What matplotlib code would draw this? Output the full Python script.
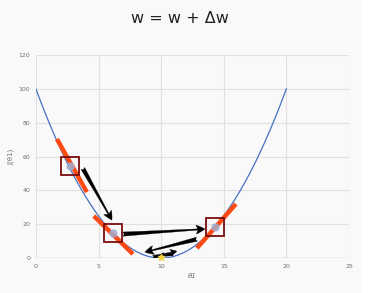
import numpy as np
import matplotlib.pyplot as plt
from matplotlib.patches import FancyArrowPatch

# cost curve J(theta1) = (theta1 - 10)^2 sampled at integer steps
theta = [0, 1, 2, 3, 4, 5, 6, 7, 8, 9, 10, 11, 12, 13, 14, 15, 16, 17, 18, 19, 20]
cost = [100, 81, 64, 49, 36, 25, 16, 9, 4, 1, 0, 1, 4, 9, 16, 25, 36, 49, 64, 81, 100]

# highlighted steps (boxed points)
step_x = [2.7, 6.15, 14.3]
step_y = [54.5, 14.8, 18.3]

# tangent segments (start x, start y, end x, end y)
tan_x0 = [1.68, 4.63, 12.86]
tan_y0 = [70.4, 24.9, 5.9]
tan_x1 = [4.07, 7.75, 15.97]
tan_y1 = [39.0, 2.4, 32.0]

# update arrows (from -> to)
arr_x0 = [3.75, 6.95, 12.86, 9.35, 10.94]
arr_y0 = [53.0, 14.2, 11.2, 0.6, 2.4]
arr_x1 = [6.07, 13.5, 8.7, 11.26, 9.74]
arr_y1 = [22.5, 17.2, 3.55, 4.1, 0.6]

fig = plt.figure(figsize=(3.74, 2.93), dpi=100, facecolor='#f9f9f9')
fig.patches.append(plt.Rectangle((0.968, 0), 0.032, 1, transform=fig.transFigure,
                                 facecolor='white', edgecolor='none', zorder=-1))
ax = fig.add_axes([0.096, 0.119, 0.837, 0.693])
ax.set_facecolor('#f9f9f9')

# smooth curve through the sampled points
xs = np.linspace(0, 20, 200)
ys = np.polyval(np.polyfit(theta, cost, 2), xs)
ax.plot(xs, ys, color='#4472c4', lw=0.9, zorder=3)

for i in range(3):
    ax.plot([tan_x0[i], tan_x1[i]], [tan_y0[i], tan_y1[i]], color='#ff4a14', lw=3.2,
            solid_capstyle='butt', zorder=4)

ax.plot(step_x, step_y, ls='None', marker='o', ms=5, color='#9fb0d6', alpha=0.8, zorder=5)
ax.plot(step_x, step_y, ls='None', marker='s', ms=12.5, mfc='none', mec='#7a0c0c', mew=1.3, zorder=6)

for i in range(len(arr_x0)):
    big = i < 3
    style = ('fancy,head_length=0.8,head_width=0.8,tail_width=0.38' if big
             else 'fancy,head_length=0.6,head_width=0.6,tail_width=0.3')
    a = FancyArrowPatch((arr_x0[i], arr_y0[i]), (arr_x1[i], arr_y1[i]),
                        arrowstyle=style, color='black', lw=0.2,
                        mutation_scale=8, shrinkA=0, shrinkB=0, zorder=7)
    ax.add_patch(a)

ax.plot([10], [0.5], marker='*', ms=5, color='#f2d13a', zorder=8, clip_on=False)

ax.set_xlim(0, 25)
ax.set_ylim(0, 120)
ax.set_xticks([0, 5, 10, 15, 20, 25])
ax.set_yticks([0, 20, 40, 60, 80, 100, 120])
ax.grid(True, color='#e0e0e0', lw=0.8)
ax.set_axisbelow(True)
for s in ax.spines.values():
    s.set_visible(False)
ax.axhline(0, color='#d0d0d0', lw=1.0, zorder=1)
ax.tick_params(length=0, labelsize=4.5, labelcolor='#707070', pad=4)
ax.set_xlabel('θ1', fontsize=5, color='#707070', style='italic', labelpad=3)
ax.set_ylabel('J(θ1)', fontsize=5, color='#707070', labelpad=3)

fig.text(0.481, 0.938, 'w = w + Δw', ha='center', va='center', fontsize=11.5,
         color='#222222')

plt.savefig('out.png', dpi=100, facecolor=fig.get_facecolor())
